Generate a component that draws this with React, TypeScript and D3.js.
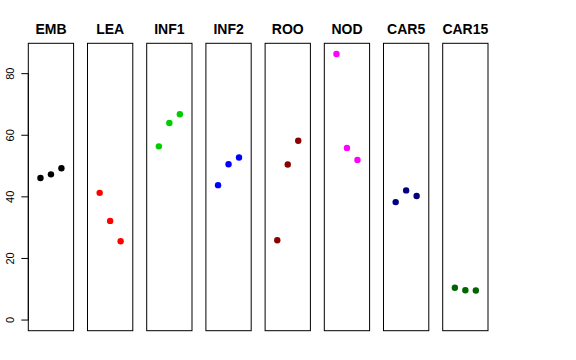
import { useEffect, useRef } from "react";
import * as d3 from "d3";

const groups = ["EMB", "LEA", "INF1", "INF2", "ROO", "NOD", "CAR5", "CAR15"];
const colors = ["#000000", "#FF0000", "#00CD00", "#0000FF", "#8B0000", "#FF00FF", "#000080", "#006400"];
const rep1 = [46.1, 41.3, 56.4, 43.8, 25.9, 86.4, 38.3, 10.5];
const rep2 = [47.3, 32.2, 64.0, 50.6, 50.5, 55.9, 42.1, 9.7];
const rep3 = [49.3, 25.6, 66.8, 52.8, 58.2, 52.0, 40.3, 9.6];
const yTicks = [0, 20, 40, 60, 80];

export default function App() {
  const svgRef = useRef<SVGSVGElement>(null);
  const width = 576;
  const height = 360;

  useEffect(() => {
    if (!svgRef.current) return;
    const svg = d3.select(svgRef.current);
    svg.selectAll("*").remove();

    const top = 43.3;
    const bottom = 330.7;

    // panels
    const band = d3
      .scaleBand<string>()
      .domain(groups)
      .range([28.3, 488])
      .paddingInner(0.235)
      .paddingOuter(0);

    // R-style 4% extension of [0, max]
    const ymax = d3.max([...rep1, ...rep2, ...rep3]) as number;
    const ext = ymax * 0.04;
    const y = d3.scaleLinear().domain([-ext, ymax + ext]).range([bottom, top]);

    const g = svg.append("g");

    groups.forEach((name, i) => {
      const x0 = band(name) as number;
      const bw = band.bandwidth();
      const x = d3
        .scaleLinear()
        .domain([0 - 0.16, 4 + 0.16])
        .range([x0, x0 + bw]);

      g.append("rect")
        .attr("x", x0)
        .attr("y", top)
        .attr("width", bw)
        .attr("height", bottom - top)
        .attr("fill", "none")
        .attr("stroke", "#000")
        .attr("stroke-width", 1);

      g.append("text")
        .attr("x", x0 + bw / 2)
        .attr("y", 34)
        .attr("text-anchor", "middle")
        .style("font-family", "'Liberation Sans', Arial, sans-serif")
        .style("font-size", "14px")
        .style("font-weight", "bold")
        .text(name);

      const vals = [rep1[i], rep2[i], rep3[i]];
      g.selectAll(null)
        .data(vals)
        .enter()
        .append("circle")
        .attr("cx", (_, j) => x(j + 1))
        .attr("cy", (d) => y(d))
        .attr("r", 3.2)
        .attr("fill", colors[i]);
    });

    // y axis
    const axisX = 28.3;
    const ax = svg.append("g");
    ax.append("line")
      .attr("x1", axisX)
      .attr("x2", axisX)
      .attr("y1", y(0))
      .attr("y2", y(80))
      .attr("stroke", "#000");
    yTicks.forEach((t) => {
      ax.append("line")
        .attr("x1", axisX - 7)
        .attr("x2", axisX)
        .attr("y1", y(t))
        .attr("y2", y(t))
        .attr("stroke", "#000");
      ax.append("text")
        .attr("transform", `translate(13.5,${y(t)}) rotate(-90)`)
        .attr("text-anchor", "middle")
        .style("font-family", "'Liberation Sans', Arial, sans-serif")
        .style("font-size", "11px")
        .text(t);
    });
  }, []);

  return (
    <svg
      ref={svgRef}
      width={width}
      height={height}
      style={{ position: "absolute", left: 0, top: 0, background: "#fff" }}
    />
  );
}
